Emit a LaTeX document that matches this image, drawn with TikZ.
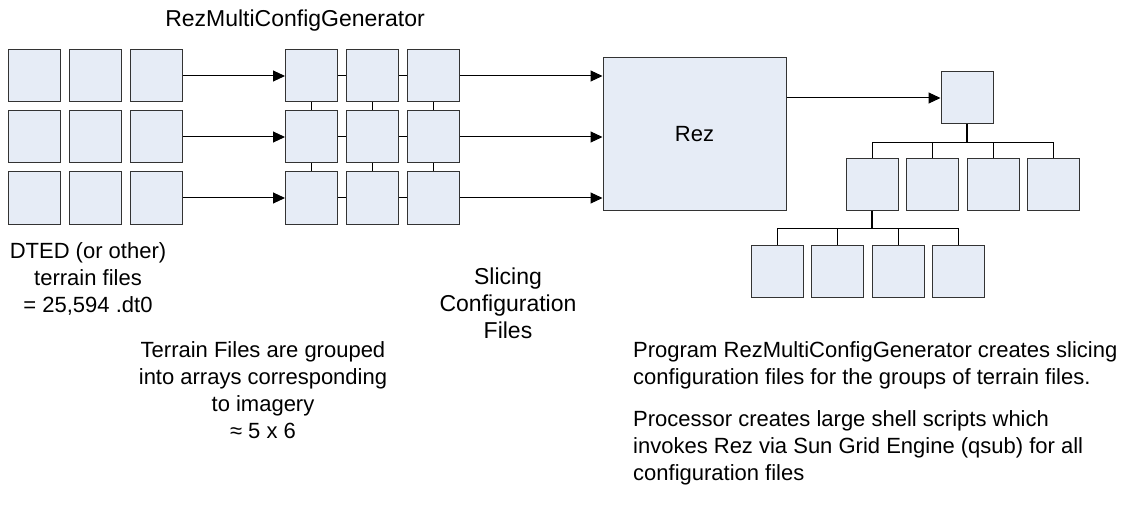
\documentclass[tikz,border=0pt]{standalone}
\usepackage{fontspec}
\setmainfont{Liberation Sans}
\usepackage{tikz}
\usetikzlibrary{arrows.meta}
\definecolor{tilefill}{HTML}{E6ECF6}
\definecolor{tileedge}{HTML}{333333}

\begin{document}
\begin{tikzpicture}[x=1pt, y=-1pt,
    tile/.style={draw=tileedge, fill=tilefill, line width=1pt,
                 minimum width=52pt, minimum height=52pt, inner sep=0pt},
    feed/.style={line width=1pt, -{Triangle[length=12pt, width=11pt]}},
    link/.style={line width=1pt},
    stem/.style={line width=2pt},
    label/.style={font=\fontsize{22}{27}\selectfont, inner sep=0pt, align=center}]
  \useasboundingbox (0,0) rectangle (1128,508);

  \node[label, font=\fontsize{23}{27}\selectfont, anchor=base] (gen) at (295,27) {RezMultiConfigGenerator};

  \foreach \r/\y in {1/76, 2/137, 3/198} {
    \foreach \c/\x in {1/34.5, 2/95.5, 3/156.5}
      \node[tile] (t-\r-\c) at (\x,\y) {};
    \foreach \c/\x in {1/311.5, 2/372.5, 3/433.5}
      \node[tile] (g-\r-\c) at (\x,\y) {};
  }
  \node[tile, minimum width=183pt, minimum height=153pt,
        font=\fontsize{22}{27}\selectfont] (rez) at (694.5,134.5) {Rez};

  \foreach \r in {1,2,3} {
    \draw[feed] (t-\r-3) -- (g-\r-1);
    \draw[feed] (g-\r-3.east) -- (g-\r-3.east -| rez.west);
    \draw[link] (g-\r-1) -- (g-\r-2) (g-\r-2) -- (g-\r-3);
  }
  \foreach \c in {1,2,3}
    \draw[link] (g-1-\c) -- (g-2-\c) (g-2-\c) -- (g-3-\c);

  \node[tile] (top) at (967,98) {};
  \draw[feed] (rez.east |- top) -- (top);
  \foreach \i/\x in {1/872, 2/932, 3/993, 4/1053}
    \node[tile] (b-\i) at (\x,184.5) {};
  \foreach \i/\x in {1/777, 2/837, 3/898, 4/958}
    \node[tile] (c-\i) at (\x,271) {};

  \draw[stem] (top.south) -- ++(0,18) coordinate (j1);
  \draw[link] (b-1.north |- j1) -- (b-4.north |- j1);
  \foreach \i in {1,...,4}
    \draw[link] (b-\i.north |- j1) -- (b-\i.north);
  \draw[stem] (b-1.south) -- ++(0,17) coordinate (j2);
  \draw[link] (c-1.north |- j2) -- (c-4.north |- j2);
  \foreach \i in {1,...,4}
    \draw[link] (c-\i.north |- j2) -- (c-\i.north);

  \node[label, anchor=north] (dted) at (88,242)
    {DTED (or other)\\terrain files\\= 25,594 .dt0};
  \node[label, anchor=north] (groups) at (263,341)
    {Terrain Files are grouped\\into arrays corresponding\\to imagery\\≈ 5 x 6};
  \node[label, font=\fontsize{23}{27}\selectfont, anchor=north] (slices) at (508,268)
    {Slicing\\Configuration\\Files};
  \node[label, align=left, anchor=north west] (notes) at (633,341)
    {Program RezMultiConfigGenerator creates slicing\\configuration files for the groups of terrain files.\\[15pt]Processor creates large shell scripts which\\invokes Rez via Sun Grid Engine (qsub) for all\\configuration files};
\end{tikzpicture}
\end{document}
